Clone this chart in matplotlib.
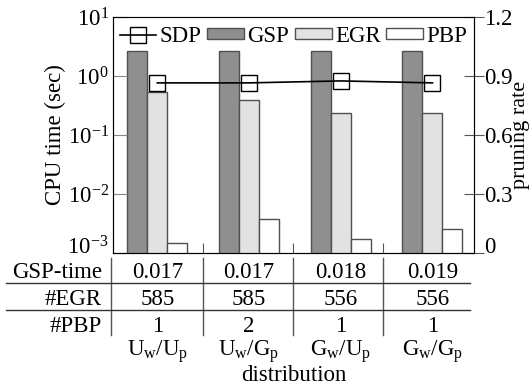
import numpy as np
import matplotlib.pyplot as plt
from matplotlib.lines import Line2D
from matplotlib.transforms import blended_transform_factory, ScaledTranslation

plt.rcParams['font.family'] = ['Liberation Serif', 'DejaVu Serif']
plt.rcParams['mathtext.fontset'] = 'custom'
plt.rcParams['mathtext.rm'] = 'Liberation Serif'
plt.rcParams['mathtext.it'] = 'Liberation Serif:italic'
plt.rcParams['axes.unicode_minus'] = False

dists = [r'U$_\mathrm{w}$/U$_\mathrm{p}$', r'U$_\mathrm{w}$/G$_\mathrm{p}$',
         r'G$_\mathrm{w}$/U$_\mathrm{p}$', r'G$_\mathrm{w}$/G$_\mathrm{p}$']
gsp = [2.65, 2.65, 2.65, 2.65]
egr = [0.53, 0.39, 0.24, 0.24]
pbp = [0.0015, 0.0038, 0.0017, 0.0026]
sdp = [0.865, 0.865, 0.875, 0.865]

gsp_time = ['0.017', '0.017', '0.018', '0.019']
n_egr = ['585', '585', '556', '556']
n_pbp = ['1', '2', '1', '1']

fs = 16.5
fig = plt.figure(figsize=(5.31, 3.86), dpi=100)
ax1 = fig.add_axes([113/531, 1-253/386, 361/531, 236/386])
x = np.arange(len(dists))
w = 0.218

ax1.bar(x - w, gsp, w, color='#8f8f8f', edgecolor='#505050', linewidth=1, label='GSP')
ax1.bar(x, egr, w, color='#e2e2e2', edgecolor='#505050', linewidth=1, label='EGR')
ax1.bar(x + w, pbp, w, color='white', edgecolor='#505050', linewidth=1, label='PBP')
ax1.set_yscale('log')
ax1.set_ylim(1e-3, 10)
ax1.set_yticks([1e-3, 1e-2, 1e-1, 1, 10])
ax1.set_xlim(-0.483, 3.453)
ax1.set_xticks([0.5, 1.48, 2.46])
ax1.set_xticklabels([])
ax1.tick_params(axis='x', direction='in', length=7, color='#555555')
ax1.tick_params(axis='y', which='major', direction='in', length=10, pad=3,
                labelsize=fs, color='#888888')
ax1.tick_params(axis='y', which='minor', length=0)
ax1.set_ylabel('CPU time (sec)', fontsize=fs, labelpad=1)
for s in ax1.spines.values():
    s.set_color('#333333')
ax1.spines['top'].set_color('#777777')

ax2 = ax1.twinx()
ax2.plot(x, sdp, color='black', linewidth=1.2, marker='s', markersize=11.5,
         markerfacecolor='none', markeredgecolor='black', markeredgewidth=1, label='SDP')
ax2.set_ylim(0, 1.2)
ax2.set_yticks([0, 0.3, 0.6, 0.9, 1.2])
ax2.set_yticklabels(['0', '0.3', '0.6', '0.9', '1.2'])
ax2.tick_params(axis='y', direction='inout', length=14, pad=0, labelsize=fs, color='#555555')
ax2.set_ylabel('pruning rate', fontsize=16, labelpad=-1)

# bottom tick labels sit above the axis line in the reference
fig.canvas.draw()
up = ScaledTranslation(0, 8/100, fig.dpi_scale_trans)
for lab in [ax1.get_yticklabels()[0], ax2.get_yticklabels()[0]]:
    lab.set_transform(lab.get_transform() + up)

h1, l1 = ax1.get_legend_handles_labels()
h2, l2 = ax2.get_legend_handles_labels()
ax1.legend(h2 + h1, l2 + l1, loc='upper center', bbox_to_anchor=(0.5, 1.02), ncol=4,
           frameon=False, fontsize=fs, handlelength=1.6, handleheight=0.35,
           handletextpad=0.15, columnspacing=0.25, borderaxespad=0.2)

# table under the axes
tr = blended_transform_factory(ax1.transData, fig.transFigure)
H = 386
def fy(py):
    return 1 - py / H

rows = [('GSP-time', gsp_time, 278), ('#EGR', n_egr, 305), ('#PBP', n_pbp, 332)]
for name, vals, base in rows:
    fig.text(102/531, fy(base), name, ha='right', va='baseline', fontsize=fs)
    for xi, v in zip(x, vals):
        ax1.text(xi, fy(base), v, transform=tr, ha='center', va='baseline',
                 fontsize=fs, clip_on=False)

for py in [283, 310]:
    fig.add_artist(Line2D([6/531, 470/531], [fy(py), fy(py)], color='#333333', linewidth=1))
for xv in [-0.5, 0.5, 1.48, 2.46]:
    ax1.add_artist(Line2D([xv, xv], [fy(258), fy(335)], transform=tr, color='#555555',
                          linewidth=1, clip_on=False))

for xi, d in zip(x, dists):
    ax1.text(xi, fy(356), d, transform=tr, ha='center', va='baseline',
             fontsize=fs, clip_on=False)
fig.text((113 + 474) / 2 / 531, fy(381), 'distribution', ha='center', va='baseline', fontsize=fs)

plt.savefig('out.png', dpi=100)
